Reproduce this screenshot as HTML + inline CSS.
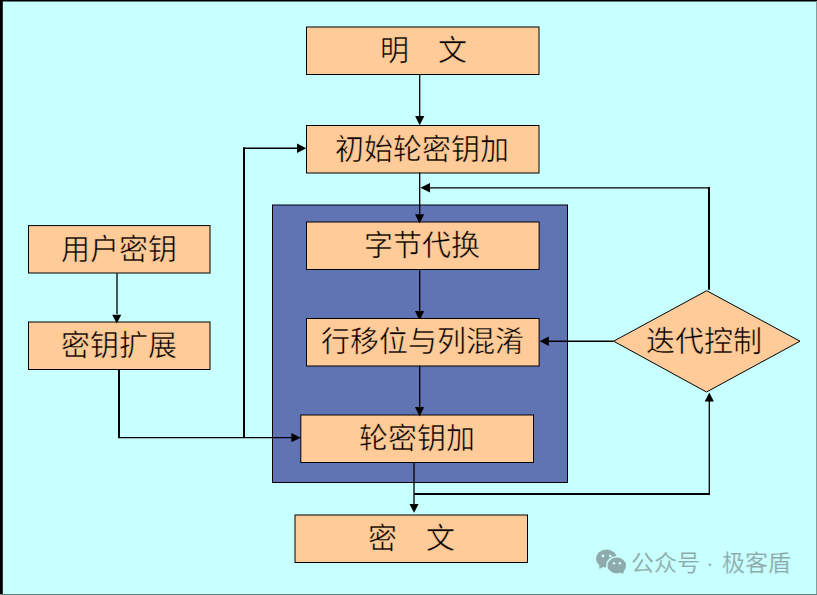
<!DOCTYPE html>
<html lang="zh-CN">
<head>
<meta charset="utf-8">
<style>
html,body{margin:0;padding:0;}
body{width:817px;height:595px;overflow:hidden;background:#C8FFFF;position:relative;font-family:"Liberation Serif",serif;}
svg{position:absolute;left:0;top:0;}
.t{position:absolute;color:#000;font-size:29px;line-height:30px;white-space:nowrap;text-align:center;-webkit-text-stroke:0.5px #FFCC99;}
.wm{position:absolute;color:#8FAAAA;font-family:"Liberation Sans",sans-serif;font-size:23px;line-height:24px;white-space:nowrap;-webkit-text-stroke:0.15px #C8FFFF;}
</style>
</head>
<body>
<svg width="817" height="595" viewBox="0 0 817 595">
  <!-- page border -->
  <rect x="0" y="0" width="2.8" height="595" fill="#000"/>
  <rect x="0" y="0" width="817" height="1.5" fill="#000"/>
  <rect x="816" y="1" width="1" height="594" fill="#80A0A0"/>
  <rect x="0" y="594" width="817" height="1" fill="#608080"/>

  <!-- blue container -->
  <rect x="272.5" y="205" width="295" height="277.5" fill="#6074B4" stroke="#000" stroke-width="1"/>

  <!-- boxes -->
  <g fill="#FFCC99" stroke="#000" stroke-width="1">
    <rect x="306.5" y="27" width="232.5" height="47.5"/>
    <rect x="306.5" y="125.5" width="232.5" height="47.5"/>
    <rect x="306.5" y="222" width="232.6" height="47.5"/>
    <rect x="306.5" y="318.5" width="232.6" height="47.5"/>
    <rect x="300.8" y="415" width="232.7" height="47.5"/>
    <rect x="295" y="515" width="232.5" height="47.5"/>
    <rect x="28.5" y="225.6" width="181.5" height="47.4"/>
    <rect x="28.5" y="322" width="181.5" height="47.5"/>
    <polygon points="613.6,341.2 706.7,290.7 800,341.2 706.5,392"/>
  </g>

  <!-- lines -->
  <g stroke="#000" fill="none" stroke-linecap="butt">
    <line x1="419.7" y1="74" x2="419.7" y2="117" stroke-width="1.3"/>
    <line x1="419.7" y1="172.5" x2="419.7" y2="214" stroke-width="1.3"/>
    <line x1="709" y1="289.8" x2="709" y2="187" stroke-width="2"/>
    <line x1="710" y1="187.75" x2="428" y2="187.75" stroke-width="1.25"/>
    <line x1="419.7" y1="269" x2="419.7" y2="311" stroke-width="1.3"/>
    <line x1="419.7" y1="365.8" x2="419.7" y2="407" stroke-width="1.3"/>
    <line x1="613.5" y1="341.25" x2="547" y2="341.25" stroke-width="1.5"/>
    <line x1="117" y1="273.3" x2="117" y2="314" stroke-width="1.3"/>
    <line x1="119" y1="369.3" x2="119" y2="438.0" stroke-width="2"/>
    <line x1="118" y1="437.67" x2="292" y2="437.67" stroke-width="1.35"/>
    <line x1="244" y1="438.0" x2="244" y2="147.5" stroke-width="2"/>
    <line x1="243" y1="148.25" x2="298" y2="148.25" stroke-width="1.5"/>
    <line x1="414" y1="462.4" x2="414" y2="505" stroke-width="1.3"/>
    <line x1="414.3" y1="494" x2="710" y2="494" stroke-width="2"/>
    <line x1="709.3" y1="495" x2="709.3" y2="400" stroke-width="1.3"/>
  </g>
  <!-- arrowheads -->
  <g fill="#000">
    <polygon points="415.1,116 424.3,116 419.7,125.3"/>
    <polygon points="415.0,214.3 424.2,214.3 419.6,223.4"/>
    <polygon points="430,183.1 430,192.5 420.4,187.8"/>
    <polygon points="415.0,311.1 424.2,311.1 420.6,318.5 418.6,318.5"/>
    <polygon points="415.0,407.1 424.2,407.1 419.6,416.4"/>
    <polygon points="548.8,336.5 548.8,345.9 539.6,341.2"/>
    <polygon points="112.2,314.7 121.3,314.7 116.75,323.5"/>
    <polygon points="291.3,433 291.3,442.3 300.8,437.67"/>
    <polygon points="297,143.5 297,152.9 306.3,148.2"/>
    <polygon points="409.5,504 418.6,504 414.05,512.8"/>
    <polygon points="704.7,401.6 713.9,401.6 709.3,392.6"/>
  </g>
</svg>

<div class="t" style="left:307px;top:36px;width:233px;">明　文</div>
<div class="t" style="left:305.5px;top:135px;width:233px;">初始轮密钥加</div>
<div class="t" style="left:305.5px;top:231px;width:233px;">字节代换</div>
<div class="t" style="left:306px;top:327px;width:233px;">行移位与列混淆</div>
<div class="t" style="left:300px;top:424px;width:233px;">轮密钥加</div>
<div class="t" style="left:294.5px;top:524px;width:233px;">密　文</div>
<div class="t" style="left:27.5px;top:235px;width:183px;">用户密钥</div>
<div class="t" style="left:27px;top:331px;width:183px;">密钥扩展</div>
<div class="t" style="left:610px;top:327px;width:188px;">迭代控制</div>

<svg width="817" height="595" viewBox="0 0 817 595">
  <g fill="#8FAAAA">
    <ellipse cx="606.5" cy="558.6" rx="10.5" ry="9"/>
    <polygon points="599,564 604.5,566 599.5,569"/>
  </g>
  <ellipse cx="616.8" cy="565.5" rx="10.8" ry="9.4" fill="#C8FFFF"/>
  <g fill="#8FAAAA">
    <ellipse cx="616.8" cy="565.5" rx="9.3" ry="7.9"/>
    <polygon points="619,571.5 624.5,569.5 623,574"/>
  </g>
  <g fill="#C8FFFF">
    <circle cx="603" cy="555.9" r="1.4"/><circle cx="610.2" cy="555.9" r="1.4"/>
    <circle cx="614" cy="563.2" r="1.2"/><circle cx="619.9" cy="563.2" r="1.2"/>
  </g>
</svg>
<div class="wm" style="left:631px;top:551px;">公众号</div>
<div class="wm" style="left:706px;top:551px;">·</div>
<div class="wm" style="left:722px;top:551px;">极客盾</div>
</body>
</html>
